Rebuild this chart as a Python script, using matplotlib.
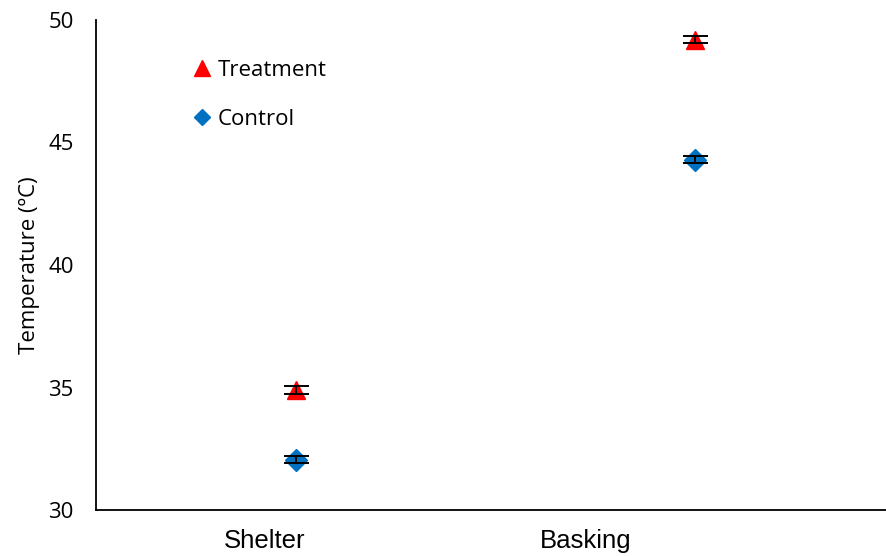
"""Shelter vs basking temperatures, treatment and control."""

import matplotlib.pyplot as plt
from matplotlib.lines import Line2D

categories = ["Shelter", "Basking"]
treatment = [34.9, 49.2]
treatment_err = [0.16, 0.15]
control = [32.06, 44.3]
control_err = [0.14, 0.15]

plt.rcParams["font.family"] = ["Open Sans", "DejaVu Sans"]

fig = plt.figure(figsize=(8.87, 5.56), dpi=100)
ax = fig.add_axes([96 / 887, 46 / 556, 791 / 887, 490 / 556])

x = [1, 2]
# the category labels sit a little left of the points in the original
label_pos = [0.923, 1.727]

# markers first, error bars drawn on top of them
ax.plot(x, treatment, linestyle="none", marker="^", markersize=13,
        color="#FF0000", zorder=2)
ax.plot(x, control, linestyle="none", marker="D", markersize=11,
        color="#0070C0", zorder=2)
ax.errorbar(x, treatment, yerr=treatment_err, fmt="none", ecolor="black",
            elinewidth=1.4, capsize=9, capthick=1.4, zorder=3)
ax.errorbar(x, control, yerr=control_err, fmt="none", ecolor="black",
            elinewidth=1.4, capsize=9, capthick=1.4, zorder=3)

ax.set_xlim(0.5, 2.48)
ax.set_ylim(30, 50)
ax.set_yticks([30, 35, 40, 45, 50])
ax.set_xticks(label_pos)
ax.set_xticklabels(categories, family="Liberation Sans")
ax.tick_params(axis="both", length=0)
ax.tick_params(axis="y", pad=16, labelsize=16)
ax.tick_params(axis="x", pad=14, labelsize=18.5)

for side in ["top", "right"]:
    ax.spines[side].set_visible(False)
for side in ["left", "bottom"]:
    ax.spines[side].set_linewidth(1.3)

ax.set_ylabel("Temperature (ºC)", fontsize=16, labelpad=6)

handles = [
    Line2D([], [], linestyle="none", marker="^", markersize=11, color="#FF0000"),
    Line2D([], [], linestyle="none", marker="D", markersize=8, color="#0070C0"),
]
ax.legend(handles, ["Treatment", "Control"], loc="upper left",
          bbox_to_anchor=(0.10, 0.96), frameon=False, fontsize=16,
          handlelength=0.6, handletextpad=0.4, labelspacing=1.28)

fig.savefig("out.png", dpi=100)
